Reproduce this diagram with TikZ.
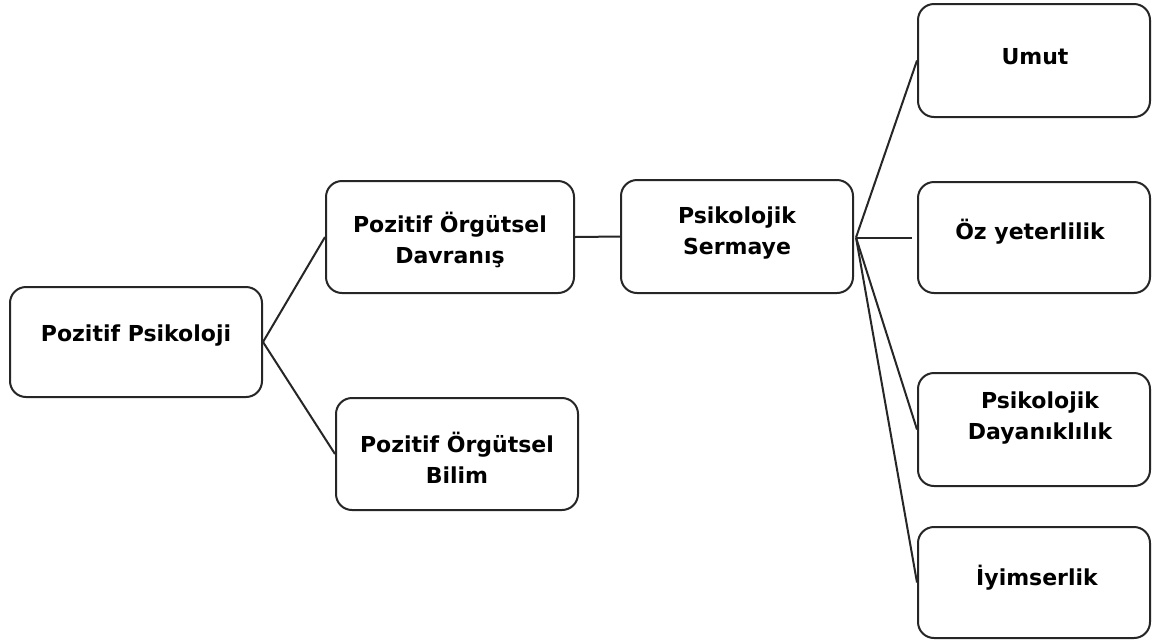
\documentclass[tikz,border=0pt]{standalone}
\usepackage{fontspec}
\setmainfont{DejaVu Sans}
\begin{document}
\begin{tikzpicture}[x=1pt,y=-1pt,
  box/.style={draw=black!85, line width=2pt, rounded corners=16pt,
    minimum width=#1, inner sep=0pt},
  box/.default=232pt,
  lbl/.style={font=\fontsize{22}{31}\selectfont\bfseries, align=center, inner sep=0pt, text=black},
  link/.style={draw=black!85, line width=2pt}]
\useasboundingbox (0,0) rectangle (1153,641);
\fill[white] (0,0) rectangle (1153,641);

% boxes
\node[box=252pt, minimum height=110pt] (psi)  at (136,342)   {};
\node[box=248pt, minimum height=112pt] (pod)  at (450,237)   {};
\node[box=242pt, minimum height=112pt] (pob)  at (457,454)   {};
\node[box,       minimum height=113pt] (sermaye) at (737,236.5) {};
\node[box,       minimum height=113pt] (umut) at (1034,60.5)  {};
\node[box,       minimum height=111pt] (oz)   at (1034,237.5) {};
\node[box,       minimum height=113pt] (dayan) at (1034,429.5) {};
\node[box,       minimum height=111pt] (iyim) at (1034,582.5) {};

% labels
\node[lbl] (tpsi)  at (136,336)  {Pozitif Psikoloji};
\node[lbl] (tpod)  at (450,240)  {Pozitif Örgütsel\\Davranış};
\node[lbl] (tpob)  at (457,458)  {Pozitif Örgütsel\\Bilim};
\node[lbl] (tserm) at (737,233)  {Psikolojik\\Sermaye};
\node[lbl] (tumut) at (1035,57)  {Umut};
\node[lbl] (toz)   at (1030,232) {Öz yeterlilik};
\node[lbl] (tday)  at (1040,418) {Psikolojik\\Dayanıklılık};
\node[lbl] (tiyim) at (1037,578) {İyimserlik};

% connectors
\draw[link] (psi.east) -- (pod.west);
\draw[link] (psi.east) -- (pob.west);
\draw[link] (pod.east) -- (sermaye.west);
\coordinate (hub) at ([xshift=2pt,yshift=-1pt]sermaye.east);
\draw[link] (hub) -- (umut.west);
\draw[link] (hub) -- ([xshift=-5pt]oz.west);
\draw[link] (hub) -- (dayan.west);
\draw[link] (hub) -- (iyim.west);
\end{tikzpicture}
\end{document}
